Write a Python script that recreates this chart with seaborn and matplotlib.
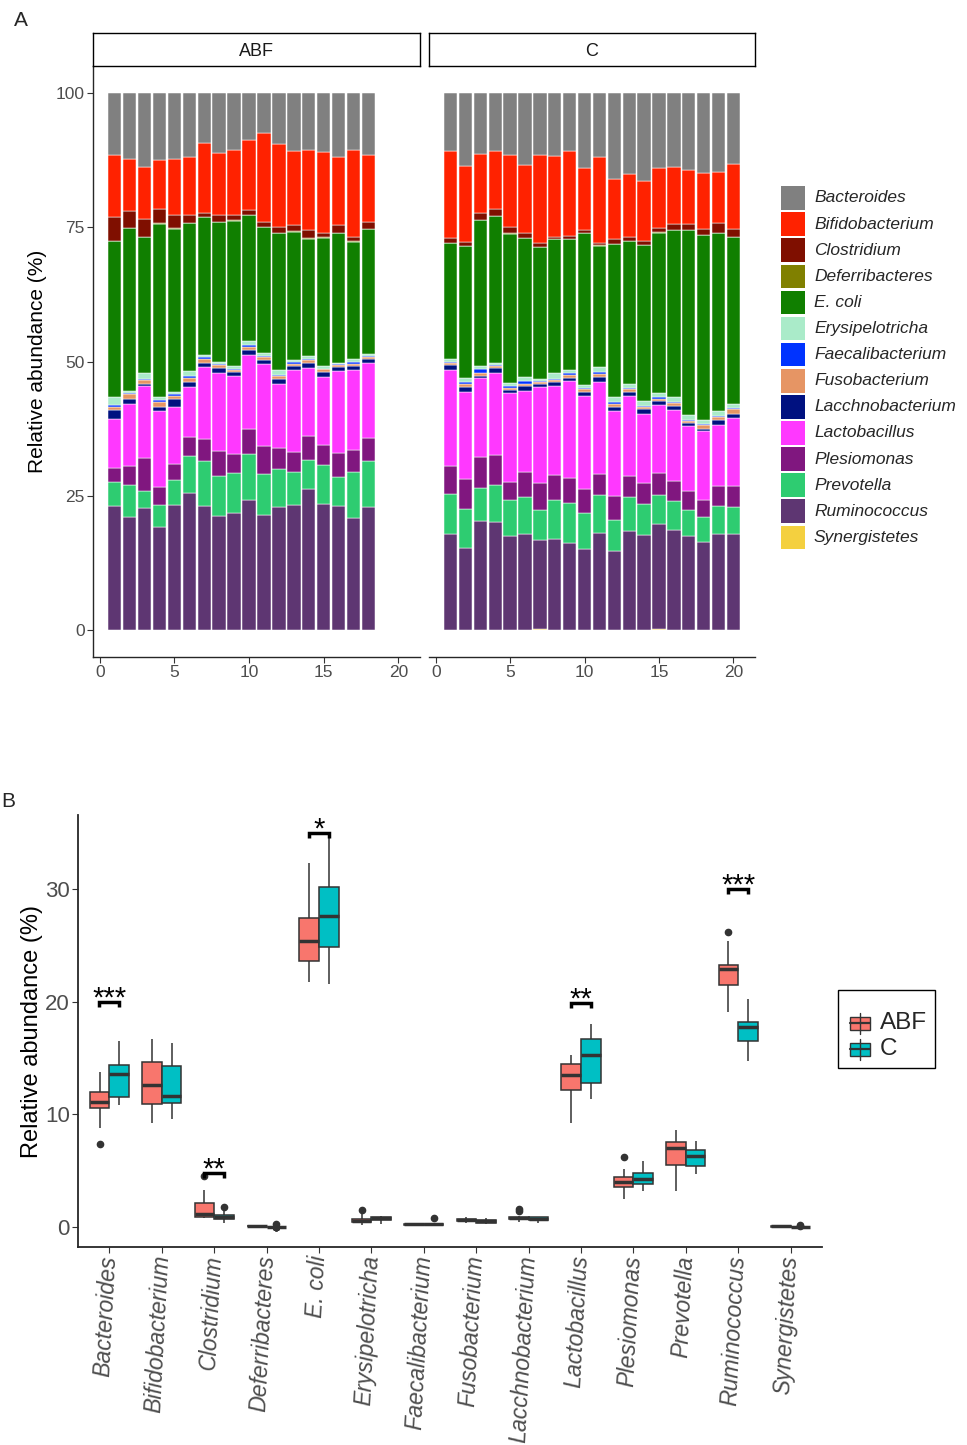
import numpy as np
import pandas as pd
import matplotlib
matplotlib.use("Agg")
import matplotlib.pyplot as plt
import seaborn as sns
from matplotlib.patches import Rectangle
from matplotlib.lines import Line2D

# ---- data (relative abundance, %) ----
genera = ["Bacteroides", "Bifidobacterium", "Clostridium", "Deferribacteres", "E. coli",
          "Erysipelotricha", "Faecalibacterium", "Fusobacterium", "Lacchnobacterium",
          "Lactobacillus", "Plesiomonas", "Prevotella", "Ruminococcus", "Synergistetes"]
genus_colors = ["#808080", "#FF2200", "#7F0F00", "#808000", "#107F00", "#AAEBC9", "#0033FF",
                "#E69564", "#001180", "#FF38FF", "#80177F", "#2ECC71", "#5E3672", "#F4D03F"]
groups = ["ABF", "C"]
group_colors = ["#F8766D", "#00BFC4"]

bacteroides_abf = [11.6, 12.4, 13.8, 12.5, 12.4, 12.0, 9.3, 11.2, 10.6, 8.8, 7.4, 9.6, 10.8, 10.6, 11.0, 12.0, 10.6, 11.6]
bacteroides_c = [10.8, 13.7, 11.3, 10.8, 11.6, 13.4, 11.6, 11.7, 10.8, 14.0, 12.0, 16.0, 15.1, 16.5, 14.0, 13.8, 14.3, 14.9, 14.7, 13.2]
bifido_abf = [11.5, 9.7, 9.7, 9.2, 10.4, 10.8, 13.0, 11.6, 12.1, 13.0, 16.7, 15.4, 13.8, 15.0, 15.1, 12.7, 16.3, 12.5]
bifido_c = [16.3, 14.0, 11.1, 10.9, 13.5, 12.7, 16.4, 15.1, 15.8, 11.5, 15.9, 11.2, 11.7, 11.0, 11.1, 10.7, 10.1, 10.4, 9.6, 12.1]
clostridium_abf = [4.5, 3.0, 3.3, 2.6, 2.4, 1.4, 0.8, 1.2, 1.0, 0.9, 0.9, 1.1, 1.2, 1.5, 0.8, 1.4, 0.8, 1.2]
clostridium_c = [0.8, 0.8, 1.2, 1.2, 1.0, 0.9, 0.7, 0.4, 0.6, 0.6, 0.5, 0.9, 0.7, 0.9, 0.9, 1.0, 1.1, 1.1, 1.8, 1.5]
deferri_abf = [0.08, 0.1, 0.05, 0.07, 0.1, 0.06, 0.09, 0.08, 0.1, 0.07, 0.05, 0.09, 0.08, 0.1, 0.06, 0.08, 0.07, 0.09]
deferri_c = [0.02, 0.03, 0.01, 0.02, 0.25, 0.02, 0.03, 0.01, 0.02, 0.02, 0.03, 0.01, 0.02, 0.02, 0.03, 0.01, 0.02, 0.02, 0.01, 0.02]
ecoli_abf = [29.0, 30.3, 25.3, 32.3, 30.4, 27.6, 25.7, 26.0, 27.1, 23.5, 23.5, 25.5, 24.0, 21.9, 23.9, 24.1, 21.8, 23.2]
ecoli_c = [21.6, 24.6, 27.2, 27.4, 27.8, 25.8, 24.6, 25.0, 24.3, 28.2, 22.7, 28.5, 26.6, 28.9, 29.9, 31.2, 34.5, 34.4, 33.1, 31.1]
ery_abf = [1.5, 0.5, 1.2, 0.6, 0.5, 0.9, 0.4, 0.4, 0.5, 0.8, 0.5, 0.8, 0.3, 0.5, 0.5, 0.2, 0.6, 0.4]
ery_c = [0.5, 0.8, 0.6, 0.3, 0.6, 0.9, 0.4, 1.0, 0.7, 0.6, 0.9, 0.9, 0.8, 0.9, 0.8, 0.8, 0.8, 0.8, 0.9, 0.8]
faecali_abf = [0.3, 0.2, 0.15, 0.3, 0.3, 0.3, 0.4, 0.2, 0.2, 0.3, 0.2, 0.2, 0.3, 0.2, 0.1, 0.2, 0.4, 0.3]
faecali_c = [0.3, 0.3, 0.8, 0.3, 0.3, 0.4, 0.2, 0.3, 0.3, 0.3, 0.3, 0.4, 0.2, 0.2, 0.3, 0.2, 0.2, 0.3, 0.2, 0.2]
fuso_abf = [0.7, 0.9, 0.7, 0.9, 0.6, 0.8, 0.6, 0.6, 0.5, 0.6, 0.6, 0.7, 0.4, 0.5, 0.6, 0.4, 0.4, 0.4]
fuso_c = [0.4, 0.5, 0.5, 0.3, 0.4, 0.4, 0.4, 0.4, 0.5, 0.5, 0.6, 0.6, 0.6, 0.5, 0.4, 0.6, 0.5, 0.6, 0.6, 0.8]
lacchno_abf = [1.6, 0.9, 0.45, 0.8, 1.4, 0.9, 0.8, 1.0, 0.7, 0.9, 0.7, 0.8, 0.8, 0.9, 0.8, 0.7, 0.7, 0.7]
lacchno_c = [0.9, 0.9, 0.4, 0.9, 0.6, 0.9, 0.5, 0.6, 0.6, 0.7, 0.9, 0.7, 0.7, 0.9, 0.7, 0.7, 0.5, 0.4, 0.9, 0.8]
lacto_abf = [9.2, 11.5, 13.3, 14.2, 10.7, 9.4, 13.4, 14.5, 14.5, 13.7, 15.3, 12.0, 15.3, 12.8, 12.8, 15.3, 14.9, 13.9]
lacto_c = [17.8, 16.3, 14.6, 15.4, 16.5, 15.2, 18.0, 16.6, 18.0, 17.3, 17.1, 15.8, 14.9, 12.8, 12.8, 13.3, 12.1, 12.8, 11.4, 12.6]
plesio_abf = [2.5, 3.6, 6.2, 3.3, 3.0, 3.5, 4.2, 4.6, 3.6, 4.7, 5.2, 3.9, 3.7, 4.4, 3.6, 4.5, 4.1, 4.4]
plesio_c = [5.2, 5.6, 5.9, 5.5, 3.5, 4.7, 4.9, 4.7, 4.8, 4.6, 4.0, 4.5, 3.9, 3.9, 4.1, 3.6, 3.6, 3.2, 3.7, 3.9]
prevo_abf = [4.6, 5.9, 3.2, 4.2, 4.6, 7.0, 8.3, 7.4, 7.4, 8.6, 7.6, 7.1, 6.1, 5.5, 7.3, 5.5, 8.5, 8.5]
prevo_c = [7.6, 7.2, 6.2, 6.8, 6.7, 6.8, 5.7, 7.3, 7.3, 6.7, 7.0, 5.8, 6.4, 5.8, 5.3, 5.5, 4.7, 4.7, 5.3, 5.1]
rumino_abf = [23.0, 21.1, 22.7, 19.1, 23.3, 25.4, 23.1, 21.3, 21.8, 24.2, 21.4, 22.9, 23.3, 26.2, 23.5, 23.0, 20.9, 22.9]
rumino_c = [17.8, 15.3, 20.2, 20.2, 17.5, 17.9, 16.6, 16.9, 16.3, 15.0, 18.1, 14.7, 18.4, 17.7, 19.7, 18.6, 17.6, 16.4, 17.8, 17.9]
syner_abf = [0.04, 0.06, 0.05, 0.03, 0.05, 0.07, 0.04, 0.05, 0.06, 0.04, 0.05, 0.03, 0.06, 0.05, 0.04, 0.05, 0.06, 0.04]
syner_c = [0.02, 0.01, 0.03, 0.02, 0.01, 0.02, 0.15, 0.02, 0.01, 0.03, 0.02, 0.01, 0.02, 0.03, 0.12, 0.02, 0.01, 0.02, 0.03, 0.02]

# significance marks: (genus, bracket height, label)
sig_genera = ["Bacteroides", "Clostridium", "E. coli", "Lactobacillus", "Ruminococcus"]
sig_heights = [20.0, 4.8, 35.0, 19.9, 30.0]
sig_labels = ["***", "**", "*", "**", "***"]


def make_table(columns):
    t = pd.DataFrame(dict(zip(genera, columns)))
    # relative abundance: each sample sums to 100 %
    t[genera] = t[genera].div(t[genera].sum(axis=1), axis=0) * 100
    t["sample"] = np.arange(1, len(t) + 1)
    return t


abf_table = make_table([bacteroides_abf, bifido_abf, clostridium_abf, deferri_abf, ecoli_abf,
                        ery_abf, faecali_abf, fuso_abf, lacchno_abf, lacto_abf, plesio_abf,
                        prevo_abf, rumino_abf, syner_abf])
c_table = make_table([bacteroides_c, bifido_c, clostridium_c, deferri_c, ecoli_c,
                      ery_c, faecali_c, fuso_c, lacchno_c, lacto_c, plesio_c,
                      prevo_c, rumino_c, syner_c])

sns.set_theme(style="ticks")
plt.rcParams["font.family"] = ["Liberation Sans", "DejaVu Sans"]

W, H = 967, 1445
fig = plt.figure(figsize=(W / 100, H / 100), dpi=100)


def px_box(left, top, right, bottom):
    return [left / W, 1 - bottom / H, (right - left) / W, (bottom - top) / H]


def fx(x):
    return x / W


def fy(y):
    return 1 - y / H


TICK_GREY = "#4D4D4D"

# ---------------- panel A: stacked bars per facet ----------------
facets = [("ABF", abf_table, (93, 420)), ("C", c_table, (429, 755))]
for k, (name, table, (left, right)) in enumerate(facets):
    ax = fig.add_axes(px_box(left, 66, right, 657))
    bottom = np.zeros(len(table))
    # stack from the last genus (bottom) to the first (top)
    for genus, color in list(zip(genera, genus_colors))[::-1]:
        vals = table[genus].to_numpy()
        ax.bar(table["sample"], vals, bottom=bottom, width=0.9, color=color,
               edgecolor="white", linewidth=0.35)
        bottom = bottom + vals
    ax.set_xlim(-0.45, 21.45)
    ax.set_ylim(-5, 105)
    ax.set_xticks([0, 5, 10, 15, 20])
    ax.spines[["top", "right"]].set_visible(False)
    ax.tick_params(length=4, width=0.8, color="#333333", labelcolor=TICK_GREY, labelsize=12.5, pad=2)
    ax.spines["bottom"].set_linewidth(1.0)
    ax.spines["left"].set_linewidth(1.0)
    if k == 0:
        ax.set_yticks([0, 25, 50, 75, 100])
        ax.set_ylabel("Relative abundance (%)", fontsize=15, labelpad=6, color="black")
    else:
        ax.spines["left"].set_visible(False)
        ax.set_yticks([])
    strip = fig.add_axes(px_box(left, 33, right, 66))
    strip.set_xticks([])
    strip.set_yticks([])
    for s in strip.spines.values():
        s.set_visible(True)
        s.set_color("black")
        s.set_linewidth(1.0)
    strip.text(0.5, 0.45, name, ha="center", va="center", fontsize=13, color="#1A1A1A",
               transform=strip.transAxes)

# legend for panel A (ggplot style keys)
for i, (g, c) in enumerate(zip(genera, genus_colors)):
    yc = 198 + i * 26.1
    fig.add_artist(Rectangle((fx(781), fy(yc + 11.8)), 23.5 / W, 23.5 / H,
                             transform=fig.transFigure, facecolor=c, edgecolor="none"))
    fig.text(fx(814), fy(yc), g, va="center", ha="left", style="italic", fontsize=12.5)

fig.text(fx(14), fy(21), "A", fontsize=15, va="center", ha="left")
fig.text(fx(1), fy(802), "B", fontsize=15, va="center", ha="left")

# ---------------- panel B: boxplots ----------------
long_abf = abf_table.melt(id_vars="sample", value_vars=genera, var_name="genus", value_name="value")
long_abf["group"] = "ABF"
long_c = c_table.melt(id_vars="sample", value_vars=genera, var_name="genus", value_name="value")
long_c["group"] = "C"
long_df = pd.concat([long_abf, long_c], ignore_index=True)

axB = fig.add_axes(px_box(78, 815, 822, 1247))
sns.boxplot(data=long_df, x="genus", y="value", hue="group", order=genera, hue_order=groups,
            palette=dict(zip(groups, group_colors)), saturation=1, width=0.75, linecolor="#333333",
            linewidth=1.1, fliersize=4.5, legend=False, ax=axB,
            flierprops={"marker": "o", "markerfacecolor": "#333333", "markeredgecolor": "#333333"},
            medianprops={"linewidth": 2.5}, capprops={"visible": False})
axB.set_xlim(-0.6, 13.6)
axB.set_ylim(-1.77, 36.56)
axB.set_yticks([0, 10, 20, 30])
axB.set_xlabel("")
axB.set_ylabel("Relative abundance (%)", fontsize=17, labelpad=1, color="black")
axB.spines[["top", "right"]].set_visible(False)
axB.spines["left"].set_linewidth(1.3)
axB.spines["bottom"].set_linewidth(1.3)
axB.tick_params(axis="y", length=4, width=0.8, color="#333333", labelcolor=TICK_GREY, labelsize=16, pad=2)
axB.tick_params(axis="x", length=4, width=0.8, color="#333333", pad=2)
axB.set_xticks(range(len(genera)))
axB.set_xticklabels(genera, rotation=87, ha="right", va="center", rotation_mode="anchor",
                    fontsize=16.5, style="italic", color=TICK_GREY)

for g, y, lab in zip(sig_genera, sig_heights, sig_labels):
    i = genera.index(g)
    x0, x1 = i - 0.19, i + 0.19
    axB.plot([x0, x0, x1, x1], [y - 0.45, y, y, y - 0.45], color="black", lw=2.5,
             solid_capstyle="butt", solid_joinstyle="miter")
    axB.text(i, y - 0.4, lab, ha="center", va="baseline", fontsize=21, color="black")

# legend for panel B: framed box with mini boxplot keys
fig.add_artist(Rectangle((fx(838), fy(1068)), 97 / W, 78 / H, transform=fig.transFigure,
                         facecolor="white", edgecolor="black", linewidth=1.0))
for yc, lab, col in zip([1023, 1049], groups, group_colors):
    fig.add_artist(Line2D([fx(860), fx(860)], [fy(yc - 10.5), fy(yc + 10.5)], transform=fig.transFigure,
                          color="#333333", linewidth=1.0))
    fig.add_artist(Rectangle((fx(850), fy(yc + 6.5)), 20 / W, 13 / H, transform=fig.transFigure,
                             facecolor=col, edgecolor="#333333", linewidth=1.0))
    fig.add_artist(Line2D([fx(850), fx(870)], [fy(yc), fy(yc)], transform=fig.transFigure,
                          color="#333333", linewidth=1.6))
    fig.text(fx(880), fy(yc), lab, va="center", ha="left", fontsize=17.5)

fig.savefig("out.png", dpi=100)
